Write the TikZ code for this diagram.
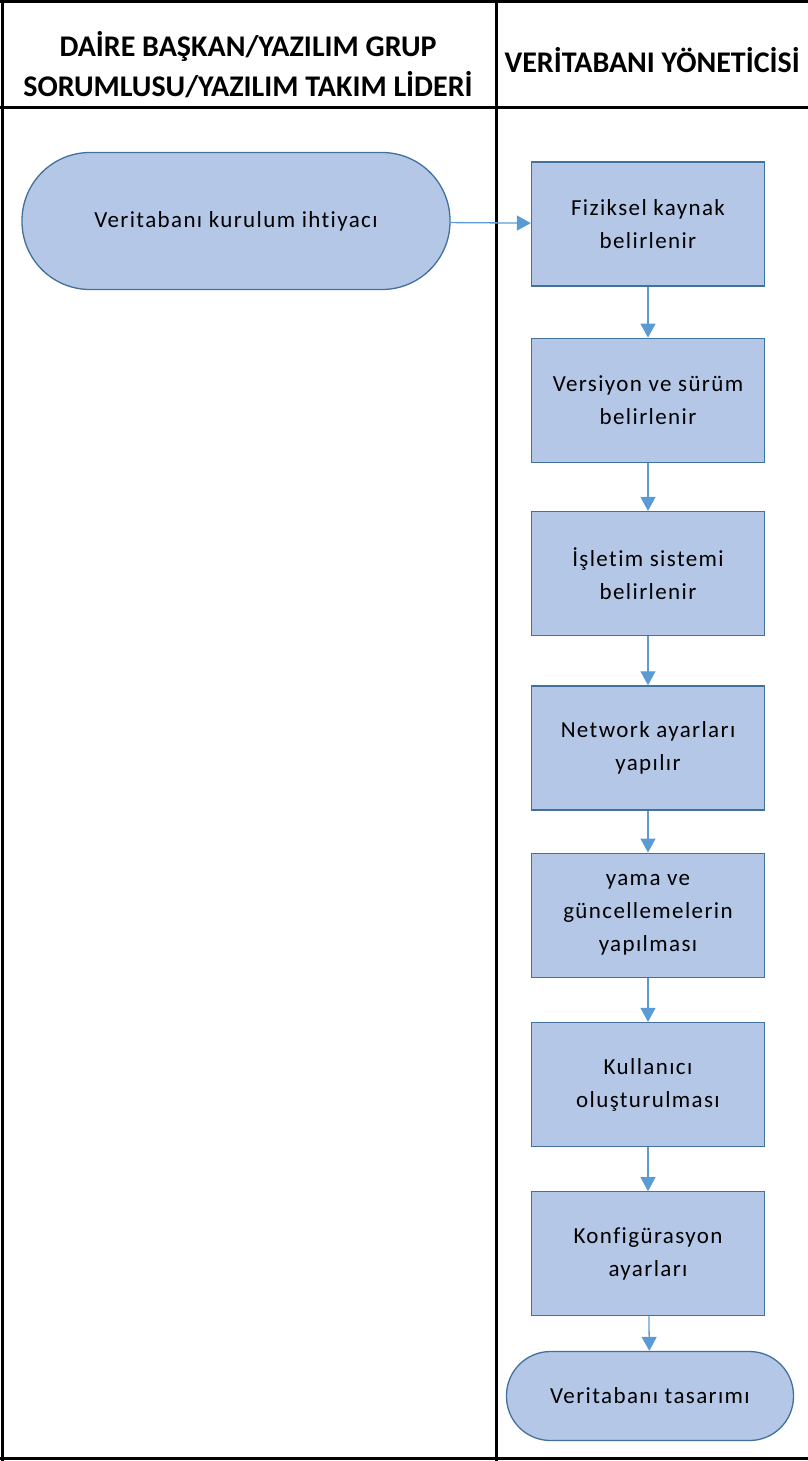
\documentclass[tikz,border=0pt]{standalone}
\usepackage{fontspec}
\setmainfont{Carlito}[Ligatures=NoCommon]
\newfontfamily\boxfont{Carlito}[Ligatures=NoCommon, LetterSpace=6]
\usepackage{tikz}
\usetikzlibrary{arrows.meta,positioning}

\definecolor{boxfill}{HTML}{B4C7E7}
\definecolor{boxline}{HTML}{41719C}
\definecolor{flowline}{HTML}{5B9BD5}

\begin{document}
\begin{tikzpicture}[x=1pt,y=-1pt]
            \tikzstyle{block} = [draw=boxline, fill=boxfill, line width=1.3pt, rectangle, minimum width=233pt, minimum height=124pt, align=center, font=\boxfont\fontsize{23}{33}\selectfont]
            \tikzstyle{term} = [draw=boxline, fill=boxfill, line width=1.3pt, rectangle, align=center, font=\boxfont\fontsize{23}{33}\selectfont]
            \tikzstyle{flow} = [draw=flowline, line width=1.3pt, -{Triangle[width=15pt,length=14pt]}]
            \tikzstyle{head} = [align=center, font=\fontsize{30}{40}\selectfont\bfseries]

            \useasboundingbox (0,0) rectangle (808,1461);

            % lanes
            \draw[line width=3pt] (2,0) -- (2,1461);
            \draw[line width=3pt] (496,0) -- (496,1461);
            \draw[line width=3pt] (0,2) -- (808,2);
            \draw[line width=3pt] (0,108) -- (808,108);
            \draw[line width=3pt] (0,1458) -- (808,1458);
            \node [head] (hdrleft) at (248,65) {DAİRE BAŞKAN/YAZILIM GRUP\\SORUMLUSU/YAZILIM TAKIM LİDERİ};
            \node [head, anchor=west] (hdrright) at (501,60) {VERİTABANI YÖNETİCİSİ};

            % steps
            \node [term, minimum width=428pt, minimum height=137pt, rounded corners=68pt] (need) at (236,221) {Veritabanı kurulum ihtiyacı};
            \node [block] (fizik) at (648,224) {Fiziksel kaynak\\belirlenir};
            \node [block, below = 51pt of fizik] (surum) {Versiyon ve sürüm\\belirlenir};
            \node [block, below = 48pt of surum] (isletim) {İşletim sistemi\\belirlenir};
            \node [block, below = 49pt of isletim] (network) {Network ayarları\\yapılır};
            \node [block, below = 42pt of network] (yama) {yama ve\\güncellemelerin\\yapılması};
            \node [block, below = 44pt of yama] (kullanici) {Kullanıcı\\oluşturulması};
            \node [block, below = 44pt of kullanici] (konfig) {Konfigürasyon\\ayarları};
            \node [term, minimum width=287pt, minimum height=89pt, rounded corners=44pt] (tasarim) at (650,1396) {Veritabanı tasarımı};

            \draw [flow] (need) -- (fizik);
            \draw [flow] (fizik) -- (surum);
            \draw [flow] (surum) -- (isletim);
            \draw [flow] (isletim) -- (network);
            \draw [flow] (network) -- (yama);
            \draw [flow] (yama) -- (kullanici);
            \draw [flow] (kullanici) -- (konfig);
            \draw [flow] (konfig) -- (tasarim);
\end{tikzpicture}
\end{document}
